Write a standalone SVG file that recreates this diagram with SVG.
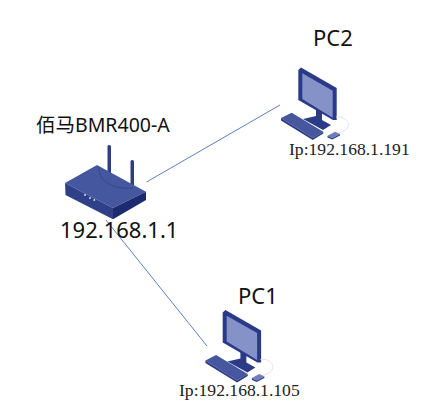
<svg xmlns="http://www.w3.org/2000/svg" width="439" height="415" viewBox="0 0 439 415">
<style>
.t{font-family:"Noto Sans","Noto Sans CJK SC",sans-serif;fill:#111}
.ip{font-family:"Liberation Serif",serif;font-size:17.600px;fill:#222}
.l{stroke:#5b80c4;stroke-width:1;fill:none}
</style>
<defs>
<g id="pc">
<path d="M316 116 L316 109 L322 112 L322 120 L331 125 L323 130 L303 119 Z" fill="#2b3b86"/>
<path d="M298.300 70 L301 67.500 L336.700 88 L336.700 120 L333 120 L298.300 100 Z" fill="#2a3a88"/>
<path d="M302.300 73.300 L332.700 90.700 L332.700 117.700 L302.300 99 Z" fill="#8492c8"/>
<path d="M336 117 C345 116 350 122 348 127 C346 131 340 133 335 134" fill="none" stroke="#e4e6ef" stroke-width="1"/>
<path d="M281 118 L291.700 112.700 L323.300 131.700 L312.700 138 Z" fill="#46579f"/>
<path d="M281 118 L281 120.500 L312.700 140 L323.300 133.500 L323.300 131.700 L312.700 138 Z" fill="#2c3b85"/>
<path d="M327.500 135.700 L335 131.700 L340 134 L332.300 138 Z" fill="#6f7eb9"/>
<path d="M327.500 135.700 L327.500 137.500 L332.300 139.500 L340 135.500 L340 134 L332.300 138 Z" fill="#33428c"/>
</g>
</defs>
<g id="connectors">
<line class="l" x1="146.500" y1="182" x2="280" y2="105"/>
<line class="l" x1="106" y1="220" x2="207" y2="346"/>
</g>
<g id="router">
<rect x="107.500" y="145" width="3.500" height="30" rx="1.500" fill="#2e3d84"/>
<rect x="130.500" y="160" width="3.500" height="30" rx="1.500" fill="#2e3d84"/>
<path d="M65 183 L97 165 L146 191.700 L113 208 Z" fill="#45589f"/>
<path d="M65 183 L65.500 195 L113 219.300 L113 208 Z" fill="#2f4089"/>
<path d="M146 191.700 L146 200 L113 219.300 L113 208 Z" fill="#1c2a70"/>
<path d="M99.300 168 C98 182 115 190 133 188" fill="none" stroke="#34468f" stroke-width="1"/>
<circle cx="85" cy="195" r="1" fill="#cfd4ea"/><circle cx="90" cy="198" r="1" fill="#cfd4ea"/><circle cx="94.300" cy="200" r="1" fill="#cfd4ea"/>
<text class="t" x="36" y="131.500" font-size="19.500">佰马BMR400-A</text>
<text class="t" x="60" y="238" font-size="22">192.168.1.1</text>
</g>
<g id="pc2">
<use href="#pc"/>
<text class="t" x="313" y="46" font-size="22">PC2</text>
<text class="ip" x="289" y="155">Ip:192.168.1.191</text>
</g>
<g id="pc1">
<use href="#pc" x="-75.600" y="242.400"/>
<text class="t" x="238" y="304" font-size="22">PC1</text>
<text class="ip" x="179" y="396">Ip:192.168.1.105</text>
</g>
</svg>
